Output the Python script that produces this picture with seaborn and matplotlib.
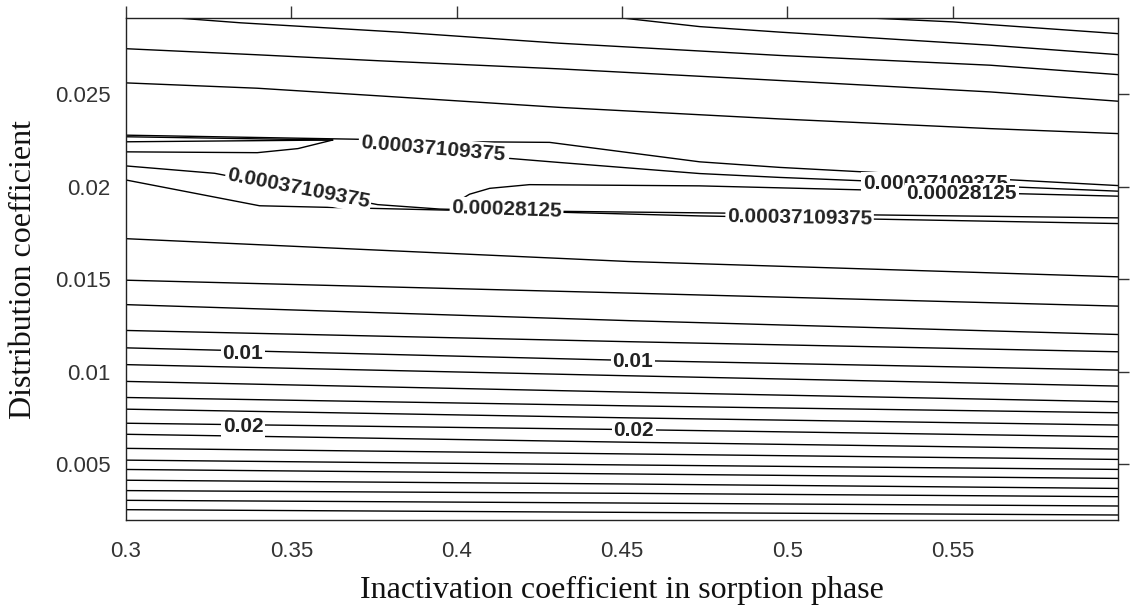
import numpy as np
import pandas as pd
import matplotlib
matplotlib.use("Agg")
import matplotlib.pyplot as plt
import seaborn as sns

# ---------------- data ----------------
# lower family of nearly parallel contour lines, y value at three x positions
band_x = [0.3, 0.452, 0.6]
band_left = [0.017187, 0.014946, 0.013627, 0.012233, 0.011294, 0.010388, 0.009482,
             0.008614, 0.007984, 0.007225, 0.006628, 0.005868, 0.005233, 0.004729,
             0.004148, 0.003589, 0.003063, 0.002558]
band_mid = [0.015955, 0.014251, 0.012763, 0.011627, 0.010615, 0.009787, 0.008905,
            0.008164, 0.007515, 0.006882, 0.006200, 0.005567, 0.004972, 0.004485,
            0.003944, 0.003441, 0.002916, 0.002413]
band_right = [0.015128, 0.013547, 0.012015, 0.011082, 0.010094, 0.009231, 0.008384,
              0.007791, 0.007127, 0.006496, 0.005832, 0.005271, 0.004732, 0.004246,
              0.003706, 0.003259, 0.002757, 0.002271]

# upper contour lines
top1_x = [0.525, 0.55, 0.5614, 0.6]
top1_y = [0.0291, 0.02889, 0.028742, 0.028255]
top2_x = [0.45, 0.4735, 0.4977, 0.5614, 0.6]
top2_y = [0.0291, 0.028635, 0.028338, 0.027631, 0.027122]
top3_x = [0.3155, 0.3347, 0.3827, 0.4311, 0.4977, 0.5614, 0.6]
top3_y = [0.0291, 0.02884, 0.028336, 0.027739, 0.027079, 0.026551, 0.026043]
top4_x = [0.3, 0.3397, 0.3767, 0.4311, 0.4977, 0.5614, 0.6]
top4_y = [0.027442, 0.027114, 0.026789, 0.026353, 0.025727, 0.025109, 0.024608]
top5_x = [0.3, 0.3397, 0.3767, 0.4311, 0.4977, 0.5614, 0.6]
top5_y = [0.025597, 0.025309, 0.024894, 0.024275, 0.023651, 0.023128, 0.022860]

# lines around the 0.00037109375 / 0.00028125 levels
ma_x = [0.3, 0.3691, 0.3948, 0.4281, 0.4735, 0.4977, 0.6]
ma_y = [0.022775, 0.022558, 0.022432, 0.022386, 0.021336, 0.021035, 0.020054]
mb_x = [0.3, 0.3625]
mb_y = [0.022689, 0.022513]
mc_x = [0.3, 0.3625]
mc_y = [0.022417, 0.022513]
md_x = [0.3, 0.3397, 0.352, 0.3625]
md_y = [0.021875, 0.021830, 0.022050, 0.022513]
me_x = [0.3, 0.3268, 0.3761, 0.3948, 0.4735, 0.6]
me_y = [0.021115, 0.020717, 0.019026, 0.018787, 0.018416, 0.018004]
mf_x = [0.3, 0.3404, 0.3969, 0.4795, 0.6]
mf_y = [0.020355, 0.018964, 0.018730, 0.018571, 0.018311]
mg_x = [0.416, 0.4311, 0.4735, 0.4977, 0.6]
mg_y = [0.021520, 0.021300, 0.020703, 0.020494, 0.019752]
mh_x = [0.3994, 0.4039, 0.4100, 0.4220, 0.4735, 0.6]
mh_y = [0.019106, 0.019588, 0.019905, 0.020104, 0.020038, 0.019482]

# contour labels: text, x, y, rotation
label_text = ["0.01", "0.01", "0.02", "0.02",
              "0.00037109375", "0.00037109375", "0.00028125",
              "0.00037109375", "0.00037109375", "0.00028125"]
label_x = [0.3353, 0.4532, 0.3355, 0.4535, 0.3927, 0.3521, 0.4151, 0.5037, 0.5448, 0.5527]
label_y = [0.011016, 0.010543, 0.007057, 0.006848, 0.02204, 0.019872, 0.01876,
           0.018329, 0.020161, 0.019613]
label_rot = [0, 0, 0, 0, -5, -11, -2, -1, 0, 0]

x_ticks = [0.3, 0.35, 0.4, 0.45, 0.5, 0.55]
x_tick_labels = ["0.3", "0.35", "0.4", "0.45", "0.5", "0.55"]
y_ticks = [0.005, 0.01, 0.015, 0.02, 0.025]
y_tick_labels = ["0.005", "0.01", "0.015", "0.02", "0.025"]

# ---------------- build table ----------------
rows = []
for i, (a, b, c) in enumerate(zip(band_left, band_mid, band_right)):
    for xv, yv in zip(band_x, (a, b, c)):
        rows.append((f"band{i}", xv, yv))
others = {"t1": (top1_x, top1_y), "t2": (top2_x, top2_y), "t3": (top3_x, top3_y),
          "t4": (top4_x, top4_y), "t5": (top5_x, top5_y),
          "ma": (ma_x, ma_y), "mb": (mb_x, mb_y), "mc": (mc_x, mc_y), "md": (md_x, md_y),
          "me": (me_x, me_y), "mf": (mf_x, mf_y), "mg": (mg_x, mg_y), "mh": (mh_x, mh_y)}
for name, (xs, ys) in others.items():
    for xv, yv in zip(xs, ys):
        rows.append((name, xv, yv))
df = pd.DataFrame(rows, columns=["line", "x", "y"])

# ---------------- plot ----------------
sns.set_style("white")
fig = plt.figure(figsize=(11.3, 6.08), dpi=100)
ax = fig.add_axes([0.1115, 0.1447, 0.8779, 0.8257])

sns.lineplot(data=df, x="x", y="y", units="line", estimator=None, sort=False,
             color="black", linewidth=1.0, legend=False, ax=ax)

for t, xv, yv, r in zip(label_text, label_x, label_y, label_rot):
    ax.text(xv, yv, t, ha="center", va="center", rotation=r,
            fontsize=15, fontweight="bold", family="Liberation Sans", color="#222222",
            bbox=dict(boxstyle="square,pad=0.08", fc="white", ec="none"), zorder=5)

ax.set_xlim(0.3, 0.6)
ax.set_ylim(0.002, 0.0291)
ax.set_xticks(x_ticks)
ax.set_xticklabels(x_tick_labels)
ax.set_yticks(y_ticks)
ax.set_yticklabels(y_tick_labels)
ax.tick_params(axis="both", which="both", direction="out", length=8, width=1,
               color="#333333", top=True, right=True, labelsize=16,
               labelcolor="#333333", pad=3)
ax.tick_params(axis="x", which="both", length=9, pad=6)
for lab in ax.get_xticklabels() + ax.get_yticklabels():
    lab.set_family("Liberation Sans")
for s in ax.spines.values():
    s.set_color("#222222")
    s.set_linewidth(1.0)

ax.set_xlabel("Inactivation coefficient in sorption phase", family="Liberation Serif",
              fontsize=23, labelpad=10, color="#111111")
ax.set_ylabel("Distribution coefficient", family="Liberation Serif",
              fontsize=23, labelpad=12, color="#111111")

fig.savefig("out.png", dpi=100)
